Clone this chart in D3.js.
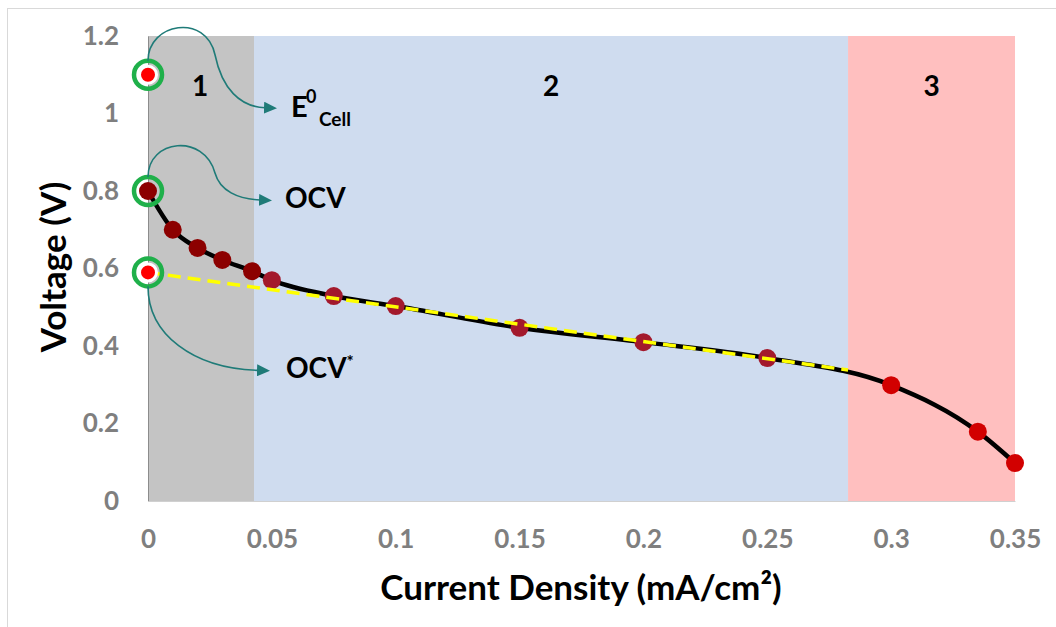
<!DOCTYPE html>
<html>
<head>
<meta charset="utf-8">
<script src="https://cdn.jsdelivr.net/npm/d3@7"></script>
<style>
  body { margin: 0; background: #fff; }
  svg { display: block; font-family: Lato, "DejaVu Sans", sans-serif; }
</style>
</head>
<body>
<svg></svg>
<script>
// polarisation curve data
const currentDensity = [0, 0.01, 0.02, 0.03, 0.042, 0.05, 0.075, 0.1, 0.15, 0.2, 0.25, 0.3, 0.335, 0.35];
const voltage = [0.8, 0.70, 0.653, 0.622, 0.593, 0.57, 0.529, 0.503, 0.447, 0.41, 0.369, 0.299, 0.179, 0.098];

// linear fit of the ohmic part (yellow dashed)
const fitX = [0, 0.2826];
const fitY = [0.59, 0.338];

// shaded regions
const regionBounds = [0, 0.0428, 0.2826, 0.35];
const regionLabels = ["1", "2", "3"];
const regionColors = ["#c4c4c4", "#cfdcef", "#ffbfbf"];
const markerColors = ["#8c0000", "#a3192c", "#d20000"];

// marked voltages at zero current
const refVoltages = [1.1, 0.8, 0.59];

const xTicks = [0, 0.05, 0.1, 0.15, 0.2, 0.25, 0.3, 0.35];
const yTicks = [0, 0.2, 0.4, 0.6, 0.8, 1, 1.2];

const width = 1056, height = 627;

const svg = d3.select("svg")
    .attr("width", width)
    .attr("height", height);

// chart frame (light border, top + left visible)
svg.append("rect")
    .attr("x", 7.5).attr("y", 8.5)
    .attr("width", 1060).attr("height", 640)
    .attr("fill", "none")
    .attr("stroke", "#d9d9d9");

const x = d3.scaleLinear().domain([0, 0.35]).range([148, 1015]);
const y = d3.scaleLinear().domain([0, 1.2]).range([501, 36]);

// regions
svg.append("g").selectAll("rect")
    .data(regionLabels)
    .join("rect")
    .attr("x", (d, i) => x(regionBounds[i]))
    .attr("y", y(1.2))
    .attr("width", (d, i) => x(regionBounds[i + 1]) - x(regionBounds[i]))
    .attr("height", y(0) - y(1.2))
    .attr("fill", (d, i) => regionColors[i]);

svg.append("g").selectAll("text")
    .data(regionLabels)
    .join("text")
    .attr("x", (d, i) => (x(regionBounds[i]) + x(regionBounds[i + 1])) / 2 + (i === 0 ? -1 : 0))
    .attr("y", 96)
    .attr("text-anchor", "middle")
    .attr("font-size", 28)
    .attr("font-weight", "bold")
    .attr("fill", "#000")
    .text(d => d);

// axes
const yAxis = svg.append("g")
    .attr("transform", `translate(${x(0)},0)`)
    .call(d3.axisLeft(y).tickValues(yTicks).tickSize(0).tickPadding(29)
        .tickFormat(d => String(+d.toFixed(2))));
yAxis.select(".domain").attr("stroke", "#8c8c8c");

const xAxis = svg.append("g")
    .attr("transform", `translate(0,${y(0)})`)
    .call(d3.axisBottom(x).tickValues(xTicks).tickSize(0).tickPadding(29)
        .tickFormat(d => String(+d.toFixed(2))));
xAxis.select(".domain").attr("stroke", "#d0d0d0");

svg.selectAll(".tick text")
    .attr("font-family", "Lato, sans-serif")
    .attr("font-size", 26)
    .attr("font-weight", "bold")
    .attr("fill", "#7f7f7f");

// axis titles
svg.append("text")
    .attr("x", 581).attr("y", 600)
    .attr("text-anchor", "middle")
    .attr("font-size", 35)
    .attr("font-weight", "bold")
    .attr("fill", "#000")
    .text("Current Density (mA/cm²)");

svg.append("text")
    .attr("transform", "translate(66,267) rotate(-90)")
    .attr("text-anchor", "middle")
    .attr("font-size", 35)
    .attr("font-weight", "bold")
    .attr("fill", "#000")
    .text("Voltage (V)");

// polarisation curve
const pts = currentDensity.map((c, i) => [c, voltage[i]]);

svg.append("path")
    .datum(pts)
    .attr("fill", "none")
    .attr("stroke", "#000")
    .attr("stroke-width", 4.5)
    .attr("d", d3.line().x(d => x(d[0])).y(d => y(d[1])).curve(d3.curveMonotoneX));

const regionOf = c => c < regionBounds[1] ? 0 : (c < regionBounds[2] ? 1 : 2);

svg.append("g").selectAll("circle")
    .data(pts)
    .join("circle")
    .attr("cx", d => x(d[0]))
    .attr("cy", d => y(d[1]))
    .attr("r", 9)
    .attr("fill", d => markerColors[regionOf(d[0])]);

// ohmic fit
svg.append("line")
    .attr("x1", x(fitX[0])).attr("y1", y(fitY[0]))
    .attr("x2", x(fitX[1])).attr("y2", y(fitY[1]))
    .attr("stroke", "#ffff00")
    .attr("stroke-width", 3.5)
    .attr("stroke-dasharray", "13,7");

// reference points with green rings
const refs = svg.append("g");
refVoltages.forEach((v, i) => {
    if (i !== 1) {
        refs.append("circle")
            .attr("cx", x(0)).attr("cy", y(v)).attr("r", 8.5)
            .attr("fill", "#ff0000")
            .attr("stroke", "#fff").attr("stroke-width", 3);
    }
    refs.append("circle")
        .attr("cx", x(0)).attr("cy", y(v)).attr("r", 14)
        .attr("fill", "none")
        .attr("stroke", "#1fb04a").attr("stroke-width", 4.5);
});

// arrows
const teal = "#1f7b78";
svg.append("defs").append("marker")
    .attr("id", "head")
    .attr("markerUnits", "userSpaceOnUse")
    .attr("markerWidth", 13).attr("markerHeight", 12)
    .attr("refX", 1).attr("refY", 6)
    .attr("orient", "auto")
    .append("path")
    .attr("d", "M0,0 L13,6 L0,12 Z")
    .attr("fill", teal);

const arrowPaths = [
    "M0,-14 C0,-52 58,-62 67,-20 C74,14 92,32 117,33",
    "M0,-14 C0,-52 56,-58 67,-18 C72,0 90,8 112,9",
    "M0,14 C0,62 45,96 110,98"
];
arrowPaths.forEach((p, i) => {
    svg.append("path")
        .attr("transform", `translate(${x(0)},${y(refVoltages[i])})`)
        .attr("d", p)
        .attr("fill", "none")
        .attr("stroke", teal)
        .attr("stroke-width", 1.6)
        .attr("marker-end", "url(#head)");
});

// annotation labels
const e0 = svg.append("text")
    .attr("x", 291).attr("y", 117)
    .attr("font-size", 29).attr("font-weight", "bold").attr("fill", "#000");
e0.append("tspan").text("E");
e0.append("tspan").attr("x", 306).attr("y", 103).attr("font-size", 18).text("0");
e0.append("tspan").attr("x", 319).attr("y", 126).attr("font-size", 19).text("Cell");

svg.append("text")
    .attr("x", 285).attr("y", 208)
    .attr("font-size", 28).attr("font-weight", "bold").attr("fill", "#000")
    .text("OCV");

const ocvs = svg.append("text")
    .attr("x", 286).attr("y", 378)
    .attr("font-size", 28).attr("font-weight", "bold").attr("fill", "#000");
ocvs.append("tspan").text("OCV");
ocvs.append("tspan").attr("font-size", 17).attr("dy", -10).text("*");
</script>
</body>
</html>
